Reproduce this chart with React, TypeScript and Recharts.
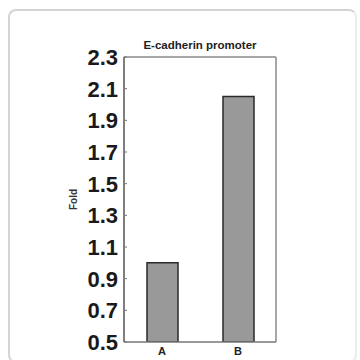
import React from 'react';
import { BarChart, Bar, XAxis, YAxis, CartesianGrid } from 'recharts';

const categories = ['A', 'B'];
const foldValues = [1.0, 2.05];
const yTicks = [0.5, 0.7, 0.9, 1.1, 1.3, 1.5, 1.7, 1.9, 2.1, 2.3];

const data = categories.map((name, i) => ({ name, fold: foldValues[i] }));

const FONT = '"Liberation Sans", Arial, sans-serif';

// left axis tick: big bold label plus a small inward tick mark
const LeftTick = ({ x, y, payload }: any) => (
  <g>
    <line x1={x + 6} x2={x + 9} y1={y} y2={y} stroke="#777" strokeWidth={1} />
    <text
      x={x}
      y={y}
      dy="0.36em"
      textAnchor="end"
      fontFamily={FONT}
      fontWeight="bold"
      fontSize={22}
      fill="#1a1a1a"
    >
      {payload.value.toFixed(1)}
    </text>
  </g>
);

const App: React.FC = () => {
  return (
    <div style={{ position: 'absolute', left: 0, top: 0, width: 360, height: 360, background: '#fff', overflow: 'hidden' }}>
      <div
        style={{
          position: 'absolute',
          left: 8,
          top: 9,
          width: 345,
          height: 350,
          border: '2px solid #d4d4d4',
          borderRightColor: '#ececec',
          borderBottomColor: '#ececec',
          borderRadius: 8,
        }}
      />
      <div
        style={{
          position: 'absolute',
          left: 100,
          width: 200,
          top: 39,
          textAlign: 'center',
          fontFamily: FONT,
          fontWeight: 'bold',
          fontSize: 11.5,
          color: '#222',
        }}
      >
        E-cadherin promoter
      </div>
      <div style={{ position: 'absolute', left: 0, top: 0 }}>
        <BarChart
          width={360}
          height={360}
          data={data}
          margin={{ top: 57, right: 84, bottom: 0, left: 64 }}
          barCategoryGap={0}
        >
          {/* frame: top and right edges of the plot box */}
          <CartesianGrid
            fill="none"
            stroke="#8a8a8a"
            strokeWidth={1.5}
            horizontalCoordinatesGenerator={({ offset }: any) => [offset.top]}
            verticalCoordinatesGenerator={({ offset }: any) => [offset.left + offset.width]}
          />
          <XAxis
            dataKey="name"
            height={18}
            tickSize={0}
            tickMargin={5}
            axisLine={{ stroke: '#777', strokeWidth: 1.5 }}
            tick={{ fontFamily: FONT, fontWeight: 'bold', fontSize: 11, fill: '#222' }}
          />
          <YAxis
            domain={[0.5, 2.3]}
            ticks={yTicks}
            allowDataOverflow
            width={60}
            tickSize={0}
            tickMargin={6}
            tickLine={false}
            axisLine={{ stroke: '#555', strokeWidth: 1.5 }}
            tick={<LeftTick />}
            label={{
              value: 'Fold',
              angle: -90,
              position: 'insideLeft',
              offset: 9,
              style: { fontFamily: FONT, fontWeight: 'bold', fontSize: 10, fill: '#333', textAnchor: 'middle' },
            }}
          />
          <Bar
            dataKey="fold"
            barSize={31}
            fill="#999999"
            stroke="#2a2a2a"
            strokeWidth={1.5}
            isAnimationActive={false}
          />
        </BarChart>
      </div>
    </div>
  );
};

export default App;
